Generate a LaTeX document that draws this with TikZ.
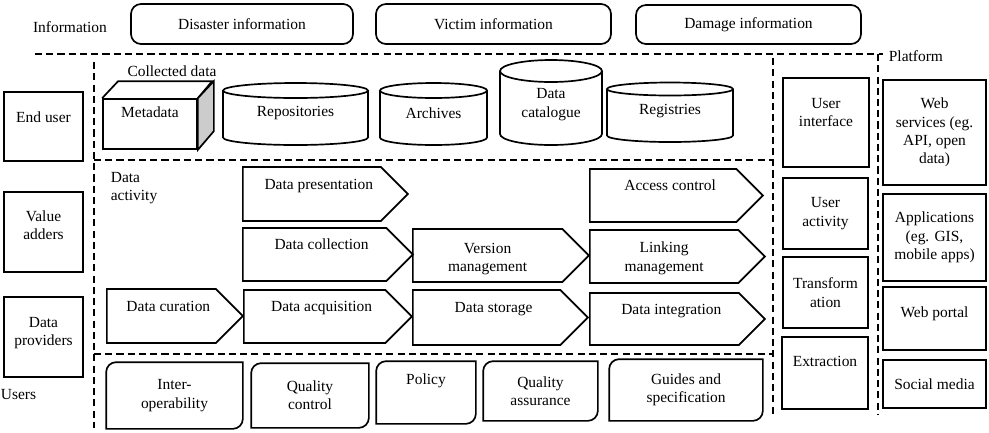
\documentclass[tikz,border=0pt]{standalone}
\usepackage{fontspec}
\setmainfont{Liberation Serif}
\usepackage{tikz}
\usetikzlibrary{shapes.symbols}

\begin{document}
\begin{tikzpicture}[x=0.25mm, y=-0.25mm, line width=1.2pt,
    font=\fontsize{11}{13}\selectfont,
    sz/.style 2 args={minimum width=#1*0.25mm, minimum height=#2*0.25mm, inner sep=0pt},
    box/.style={draw, rectangle},
    infobox/.style={draw, rectangle, rounded corners=2.5mm},
    act/.style={draw, signal, signal to=east, signal pointer angle=90, anchor=west},
    shove/.style={execute at begin node={\hspace*{3.5mm}}},
    lift/.style={text height=8pt, text depth=#1},
    grenze/.style={dash pattern=on 5pt off 3pt}]
\useasboundingbox (0,0) rectangle (989,432);

% Information oben
\node (info) at (70,27) {Information};
\node[infobox, sz={222}{40}] (dis) at (242,24) {Disaster information};
\node[infobox, sz={235}{40}] (vic) at (493.5,24) {Victim information};
\node[infobox, sz={225}{39}] (dam) at (748.5,24.5) {Damage information};

% Gestrichelte Bereiche
\draw[grenze] (35,54) -- (883,54);
\draw[grenze] (878,54) -- (878,415);
\draw[grenze] (94,62) -- (94,428);
\draw[grenze] (773,58) -- (773,416);
\draw[grenze] (94,160) -- (773,160);
\draw[grenze] (94,354) -- (773,354);

% Beschriftungen der Bereiche
\node[anchor=west, inner sep=0pt] (plat) at (888,56) {Platform};
\node[anchor=west, inner sep=0pt] (users) at (0,395) {Users};
\node (coll) at (172,71) {Collected data};
\node[align=left, anchor=west, inner sep=0pt] (dact) at (110,188) {Data\\activity};

% Users
\node[box, sz={79}{69}, lift=14pt] (eu) at (43.5,126.5) {End user};
\node[box, sz={79}{80}, align=center, text height=21pt, text depth=10.6pt] (va) at (43.5,232) {Value\\adders};
\node[box, sz={79}{80}, align=center, text height=21pt, text depth=9.2pt] (dp) at (43.5,337) {Data\\providers};

% Collected data
\node[box, sz={94}{50}, lift=17.6pt] (meta) at (150,124) {Metadata};
\draw (meta.north west) -- ++(16,-17) -- ++(94,0) -- (meta.north east);
\filldraw[fill=gray!40] (meta.north east) -- ++(16,-17) -- ++(0,50) -- (meta.south east) -- cycle;

\foreach \cx/\rx/\yt/\yb/\ry/\ty/\nm/\txt in {
    295.5/72.5/90.5/137.5/7.5/113/rep/Repositories,
    433.5/53.5/90.5/137.5/7.5/113/arch/Archives,
    551/51/71/134/11/104.5/cat/{Data\\catalogue},
    670/63/89/135.5/6.5/111/reg/Registries}
{
    \draw (\cx-\rx,\yt) -- (\cx-\rx,\yb)
        arc[start angle=180, end angle=360, x radius=\rx*0.25mm, y radius=\ry*0.25mm]
        -- (\cx+\rx,\yt);
    \draw (\cx,\yt) ellipse[x radius=\rx*0.25mm, y radius=\ry*0.25mm];
    \node[align=center] (\nm) at (\cx,\ty) {\txt};
}

% Data activity
\node[act, shove, sz={165}{54}, lift=14.8pt] (dpres) at (242,194) {Data presentation};
\node[act, shove, sz={170}{53}, lift=14.8pt] (dcoll) at (242,254.5) {Data collection};
\node[act, sz={176}{53}, align=center, text height=23pt, text depth=0pt] (vman) at (412,255.5) {Version\\management};
\node[act, shove, sz={173}{53}, lift=14.8pt] (acc) at (589,195.5) {Access control};
\node[act, sz={175}{53}, align=center, text height=21pt, text depth=0pt] (lman) at (589,256.5) {Linking\\management};
\node[act, shove, sz={136}{54}, lift=14.8pt] (dcur) at (106,316) {Data curation};
\node[act, shove, sz={168}{53}, lift=14.8pt] (dacq) at (243,316.5) {Data acquisition};
\node[act, shove, sz={175}{55}, lift=14.8pt] (dsto) at (412,317.5) {Data storage};
\node[act, shove, sz={175}{52}, lift=14.8pt] (dint) at (589,319) {Data integration};

% Richtlinien unten
\node[sz={135}{65}, align=center] (iop) at (174.5,395.5) {Inter-\\operability};
\node[sz={116}{63}, align=center] (qc) at (310,395.5) {Quality\\control};
\node[sz={98}{61}, lift=19.8pt] (pol) at (426,392.5) {Policy};
\node[sz={113}{58}, align=center] (qa) at (540.5,391) {Quality\\assurance};
\node[sz={152}{60}, align=center] (gs) at (686,390) {Guides and\\specification};
\foreach \n in {iop,qc,pol,qa,gs}
{
    \draw (\n.south west) -- ([yshift=-2.5mm]\n.north west)
        arc[start angle=180, end angle=90, radius=2.5mm] -- (\n.north east)
        -- ([yshift=2.5mm]\n.south east)
        arc[start angle=0, end angle=-90, radius=2.5mm] -- cycle;
}

% Verarbeitung
\node[box, sz={86}{89}, align=center, text height=21pt, text depth=15.5pt] (ui) at (826,122.5) {User\\interface};
\node[box, sz={85}{71}, align=center] (ua) at (825.5,213.5) {User\\activity};
\node[box, sz={85}{71}, align=center] (tr) at (825.5,292.5) {Transform\\ation};
\node[box, sz={86}{72}, lift=17.6pt] (ex) at (825,373) {Extraction};

% Platform
\node[box, sz={103}{105}, align=center] (ws) at (934.5,132.5) {Web\\services (eg.\\API, open\\data)};
\node[box, sz={103}{87}, align=center] (app) at (934.5,237.5) {Applications\\(eg. GIS,\\mobile apps)};
\node[box, sz={103}{63}, lift=9.2pt] (wp) at (934.5,318.5) {Web portal};
\node[box, sz={103}{48}] (sm) at (934.5,384) {Social media};

\end{tikzpicture}
\end{document}
